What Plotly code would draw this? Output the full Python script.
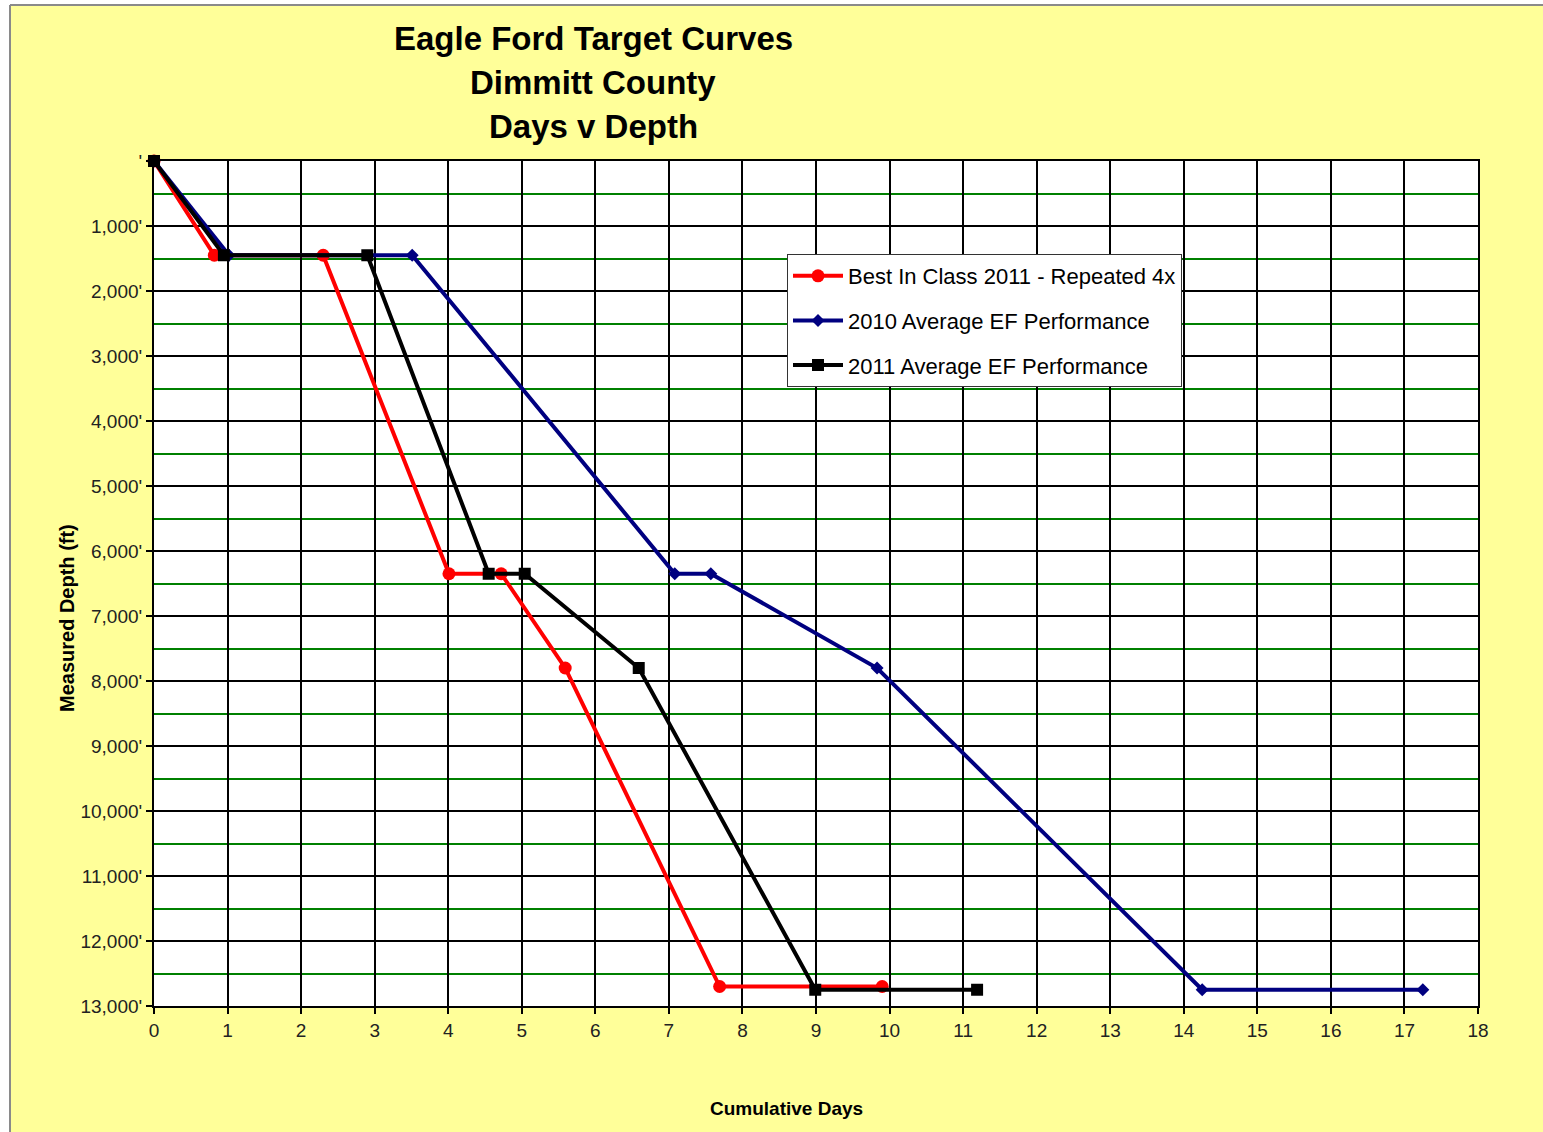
import plotly.graph_objects as go

# Cumulative days vs measured depth (ft) for each drilling curve
best_days = [0, 0.82, 2.30, 4.01, 4.72, 5.59, 7.69, 9.90]
best_depth = [0, 1450, 1450, 6350, 6350, 7800, 12700, 12700]

avg2010_days = [0, 1.02, 3.51, 7.08, 7.57, 9.83, 14.25, 17.25]
avg2010_depth = [0, 1450, 1450, 6350, 6350, 7800, 12750, 12750]

avg2011_days = [0, 0.95, 2.90, 4.55, 5.04, 6.59, 8.99, 11.19]
avg2011_depth = [0, 1450, 1450, 6350, 6350, 7800, 12750, 12750]

series_names = [
    "Best In Class 2011 - Repeated 4x",
    "2010 Average EF Performance",
    "2011 Average EF Performance",
]

depth_ticks = list(range(0, 14000, 1000))
depth_tick_labels = ["'", "1,000'", "2,000'", "3,000'", "4,000'", "5,000'", "6,000'",
                     "7,000'", "8,000'", "9,000'", "10,000'", "11,000'", "12,000'", "13,000'"]
day_ticks = list(range(0, 19))
day_tick_labels = [str(d) for d in day_ticks]

title_lines = ["Eagle Ford Target Curves", "Dimmitt County", "Days v Depth"]

W, H = 1543, 1132
L, R, T, B = 154, 1478, 161, 1006
FONT = "Liberation Sans, Arial, sans-serif"


def px_x(px):
    return (px - L) / (R - L)


def px_y(py):
    return (B - py) / (B - T)


fig = go.Figure()

fig.add_trace(go.Scatter(
    x=best_days, y=best_depth, name=series_names[0], legendgroup="a",
    mode="lines+markers", line=dict(color="#FF0000", width=4),
    marker=dict(symbol="circle", size=13, color="#FF0000"), cliponaxis=False,
))
fig.add_trace(go.Scatter(
    x=avg2010_days, y=avg2010_depth, name=series_names[1], legendgroup="b",
    mode="lines+markers", line=dict(color="#000080", width=4),
    marker=dict(symbol="diamond", size=10, color="#000080"), cliponaxis=False,
))
fig.add_trace(go.Scatter(
    x=avg2011_days, y=avg2011_depth, name=series_names[2], legendgroup="c",
    mode="lines+markers", line=dict(color="#000000", width=4),
    marker=dict(symbol="square", size=12, color="#000000"), cliponaxis=False,
))

shapes = [
    # white strips outside the yellow panel
    dict(type="rect", xref="paper", yref="paper", x0=px_x(-5), x1=px_x(10),
         y0=px_y(H + 5), y1=px_y(-5), fillcolor="white", line_width=0, layer="below"),
    dict(type="rect", xref="paper", yref="paper", x0=px_x(-5), x1=px_x(W + 5),
         y0=px_y(5), y1=px_y(-5), fillcolor="white", line_width=0, layer="below"),
    # gray panel edges
    dict(type="line", xref="paper", yref="paper", x0=px_x(10), x1=px_x(10),
         y0=px_y(H + 5), y1=px_y(5), line=dict(color="#8a8a8a", width=2), layer="below"),
    dict(type="line", xref="paper", yref="paper", x0=px_x(10), x1=px_x(W + 5),
         y0=px_y(5), y1=px_y(5), line=dict(color="#8a8a8a", width=2), layer="below"),
]

annotations = []
for i, line in enumerate(title_lines):
    annotations.append(dict(
        text=f"<b>{line}</b>", xref="paper", yref="paper",
        x=px_x(593), y=px_y(38 + 44.5 * i), xanchor="center", yanchor="middle",
        showarrow=False, font=dict(family=FONT, size=33, color="black"),
    ))
annotations.append(dict(
    text="<b>Measured Depth (ft)</b>", xref="paper", yref="paper",
    x=px_x(67), y=px_y(618), xanchor="center", yanchor="middle", textangle=-90,
    showarrow=False, font=dict(family=FONT, size=20, color="black"),
))
annotations.append(dict(
    text="<b>Cumulative Days</b>", xref="paper", yref="paper",
    x=px_x(786), y=px_y(1108), xanchor="center", yanchor="middle",
    showarrow=False, font=dict(family=FONT, size=19, color="black"),
))

fig.update_layout(
    width=W, height=H,
    margin=dict(l=L, r=W - R, t=T, b=H - B, pad=0),
    paper_bgcolor="#FFFF99",
    plot_bgcolor="white",
    shapes=shapes,
    annotations=annotations,
    showlegend=True,
    legend=dict(
        x=px_x(787), y=px_y(254), xanchor="left", yanchor="top",
        bgcolor="white", bordercolor="#333333", borderwidth=1,
        font=dict(family=FONT, size=22, color="black"),
        traceorder="grouped", tracegroupgap=13, itemwidth=50,
    ),
    xaxis=dict(
        range=[0, 18], tickvals=day_ticks, ticktext=day_tick_labels,
        showgrid=True, gridcolor="black", gridwidth=2,
        showline=True, linecolor="black", linewidth=2, mirror=True,
        ticks="outside", ticklen=6, tickcolor="black", tickwidth=2,
        tickfont=dict(family=FONT, size=19, color="#222222"),
        zeroline=False,
    ),
    yaxis=dict(
        range=[13000, 0], tickvals=depth_ticks, ticktext=depth_tick_labels,
        showgrid=True, gridcolor="black", gridwidth=2,
        minor=dict(dtick=500, showgrid=True, gridcolor="#008000", gridwidth=2, ticks=""),
        showline=True, linecolor="black", linewidth=2, mirror=True,
        ticks="outside", ticklen=6, tickcolor="black", tickwidth=2,
        tickfont=dict(family=FONT, size=19, color="#222222"),
        zeroline=False,
    ),
)

fig.write_html("out.html")
